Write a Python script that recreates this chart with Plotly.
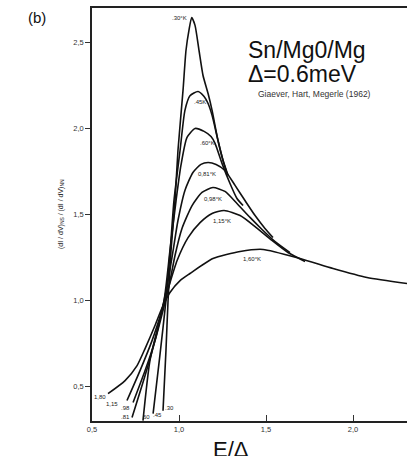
import plotly.graph_objects as go

# ---- data (E/Delta, normalized conductance) ----
temps = ["0.30", "0.45", "0.60", "0.81", "0.98", "1.15", "1.60"]

x_030 = [0.908, 0.925, 0.937, 0.954, 0.977, 0.994, 1.023, 1.040, 1.057, 1.073, 1.092, 1.115, 1.138, 1.167, 1.190, 1.224, 1.253, 1.282]
y_030 = [0.360, 0.709, 1.000, 1.291, 1.581, 1.872, 2.221, 2.453, 2.570, 2.645, 2.599, 2.453, 2.308, 2.203, 2.105, 1.930, 1.814, 1.727]

x_045 = [0.851, 0.890, 0.925, 0.950, 0.971, 1.006, 1.034, 1.063, 1.109, 1.144, 1.167, 1.190, 1.224, 1.253, 1.276]
y_045 = [0.343, 0.680, 1.000, 1.300, 1.581, 1.872, 2.105, 2.190, 2.215, 2.186, 2.145, 2.076, 1.930, 1.814, 1.738]

x_060 = [0.793, 0.833, 0.914, 0.948, 0.983, 1.011, 1.046, 1.092, 1.144, 1.184, 1.207, 1.247, 1.293, 1.333, 1.368]
y_060 = [0.302, 0.651, 1.000, 1.291, 1.581, 1.785, 1.948, 2.000, 1.983, 1.953, 1.913, 1.797, 1.680, 1.593, 1.552]

x_081 = [0.730, 0.805, 0.862, 0.908, 0.937, 0.966, 0.994, 1.034, 1.080, 1.126, 1.167, 1.213, 1.264, 1.322, 1.379, 1.437, 1.494, 1.540]
y_081 = [0.320, 0.564, 0.767, 0.971, 1.116, 1.291, 1.465, 1.640, 1.744, 1.791, 1.802, 1.791, 1.756, 1.669, 1.581, 1.494, 1.419, 1.366]

x_098 = [0.736, 0.805, 0.862, 0.908, 0.943, 0.977, 1.017, 1.075, 1.132, 1.195, 1.264, 1.333, 1.408, 1.477, 1.552, 1.638]
y_098 = [0.407, 0.593, 0.767, 0.942, 1.087, 1.262, 1.419, 1.552, 1.628, 1.657, 1.634, 1.564, 1.483, 1.413, 1.343, 1.279]

x_115 = [0.701, 0.776, 0.845, 0.902, 0.943, 0.989, 1.052, 1.121, 1.190, 1.259, 1.351, 1.437, 1.534, 1.626, 1.724]
y_115 = [0.419, 0.593, 0.767, 0.942, 1.087, 1.233, 1.366, 1.453, 1.506, 1.523, 1.494, 1.430, 1.349, 1.279, 1.227]

x_160 = [0.592, 0.690, 0.759, 0.805, 0.862, 0.908, 0.948, 1.006, 1.063, 1.195, 1.351, 1.483, 1.695, 1.885, 2.080, 2.310]
y_160 = [0.459, 0.535, 0.622, 0.721, 0.855, 0.971, 1.047, 1.116, 1.157, 1.244, 1.285, 1.297, 1.244, 1.186, 1.134, 1.099]

series_x = [x_030, x_045, x_060, x_081, x_098, x_115, x_160]
series_y = [y_030, y_045, y_060, y_081, y_098, y_115, y_160]

# curve labels near the peaks
peak_text = [".30°K", ".45K", ".60°K", "0,81°K", "0,98°K", "1,15°K", "1,60°K"]
peak_lx = [1.000, 1.121, 1.161, 1.161, 1.195, 1.247, 1.419]
peak_ly = [2.640, 2.151, 1.913, 1.738, 1.593, 1.465, 1.244]

# curve labels at the lower ends
low_text = ["1,80", "1,15", ".98", ".81", "60", ".45", ".30"]
low_lx = [0.546, 0.615, 0.690, 0.695, 0.816, 0.874, 0.948]
low_ly = [0.442, 0.401, 0.378, 0.322, 0.322, 0.337, 0.378]

x_ticks = [0.5, 1.0, 1.5, 2.0]
x_ticktext = ["0,5", "1,0", "1,5", "2,0"]
y_ticks = [0.5, 1.0, 1.5, 2.0, 2.5]
y_ticktext = ["0,5", "1,0", "1,5", "2,0", "2,5"]

fig = go.Figure()
for xs, ys, t in zip(series_x, series_y, temps):
    fig.add_trace(go.Scatter(x=xs, y=ys, mode="lines", name=t,
                             line=dict(color="#111111", width=1.6, shape="spline", smoothing=0.6),
                             hoverinfo="skip", showlegend=False))

small = dict(family="Liberation Sans", size=6, color="#1a1a1a")
for t, lx, ly in zip(peak_text, peak_lx, peak_ly):
    fig.add_annotation(x=lx, y=ly, text=t, showarrow=False, font=small, xanchor="center", yanchor="middle")
for t, lx, ly in zip(low_text, low_lx, low_ly):
    fig.add_annotation(x=lx, y=ly, text=t, showarrow=False, font=small, xanchor="center", yanchor="middle")

big = "Liberation Sans"
fig.add_annotation(xref="paper", yref="paper", x=-0.175, y=0.976, xanchor="center", yanchor="middle",
                   text="(b)", showarrow=False, font=dict(family=big, size=15, color="#111111"))
fig.add_annotation(xref="paper", yref="paper", x=0.49, y=0.898, xanchor="left", yanchor="middle",
                   text="Sn/Mg0/Mg", showarrow=False, font=dict(family=big, size=23, color="#111111"))
fig.add_annotation(xref="paper", yref="paper", x=0.49, y=0.840, xanchor="left", yanchor="middle",
                   text="Δ=0.6meV", showarrow=False, font=dict(family=big, size=23, color="#111111"))
fig.add_annotation(xref="paper", yref="paper", x=0.522, y=0.792, xanchor="left", yanchor="middle",
                   text="Giaever, Hart, Megerle (1962)", showarrow=False,
                   font=dict(family=big, size=8.5, color="#333333"))
fig.add_annotation(xref="paper", yref="paper", x=-0.10, y=0.5, xanchor="center", yanchor="middle",
                   text="(dI / dV)<sub>NS</sub> / (dI / dV)<sub>NN</sub>", textangle=-90, showarrow=False,
                   font=dict(family=big, size=7, color="#222222"))
fig.add_annotation(xref="paper", yref="paper", x=0.441, y=-0.070, xanchor="center", yanchor="middle",
                   text="E/Δ", showarrow=False, font=dict(family=big, size=22, color="#111111"))

fig.update_layout(
    width=407, height=456,
    margin=dict(l=92, r=0, t=8, b=35),
    paper_bgcolor="white", plot_bgcolor="white",
    xaxis=dict(range=[0.5, 2.31], tickvals=x_ticks, ticktext=x_ticktext,
               ticks="inside", ticklen=6, tickwidth=1, tickcolor="#333333",
               showline=True, linecolor="#222222", linewidth=1.6, mirror=True,
               showgrid=False, zeroline=False,
               tickfont=dict(family=big, size=7.5, color="#333333")),
    yaxis=dict(range=[0.3, 2.7], tickvals=y_ticks, ticktext=y_ticktext,
               ticks="outside", ticklen=5, tickwidth=1, tickcolor="#333333",
               showline=True, linecolor="#222222", linewidth=1.6, mirror=False,
               showgrid=False, zeroline=False,
               tickfont=dict(family=big, size=7.5, color="#333333")),
)

fig.write_html("out.html", config={"displayModeBar": False},
               post_script="document.body.style.margin='0';")
